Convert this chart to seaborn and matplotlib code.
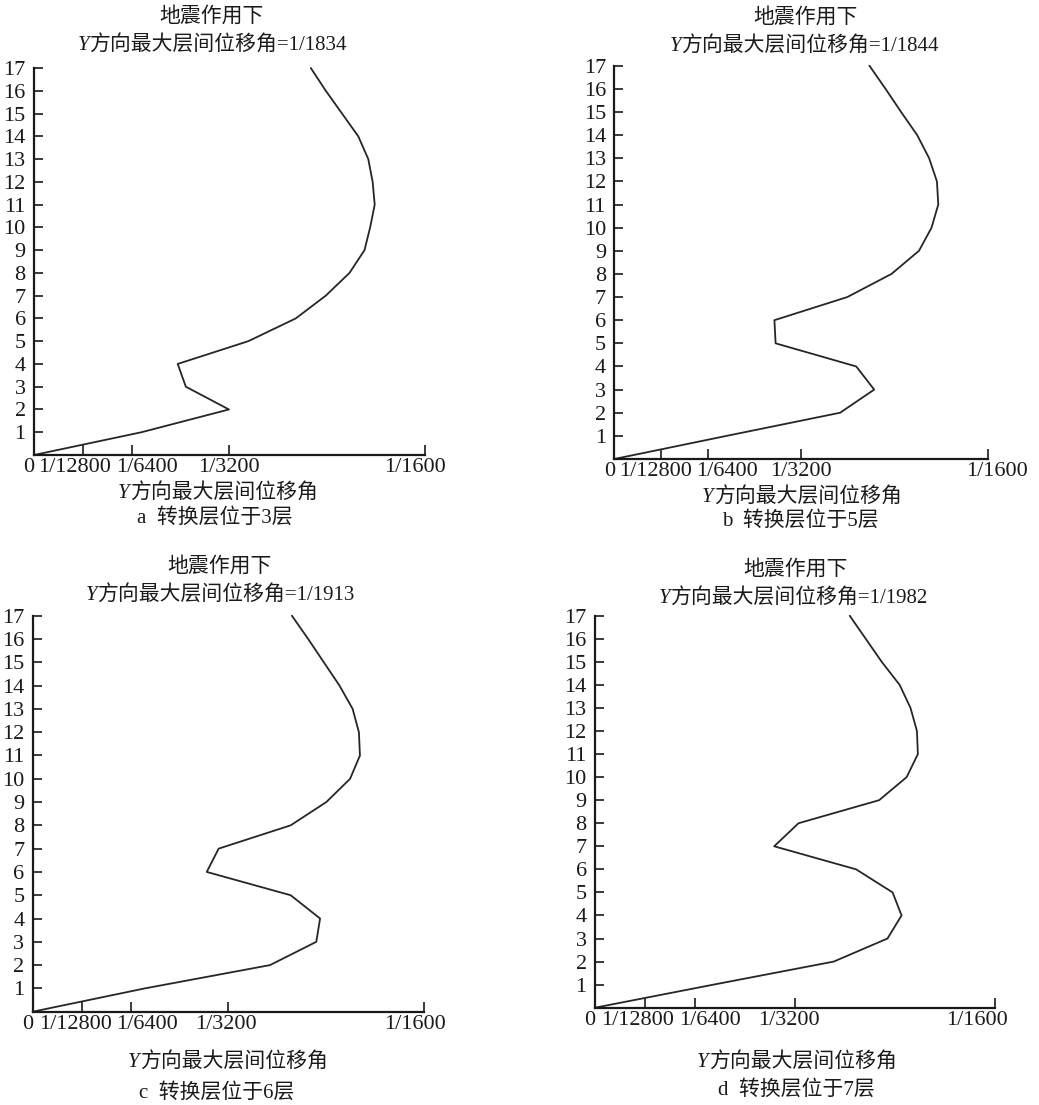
import numpy as np
import pandas as pd
import seaborn as sns
import matplotlib.pyplot as plt
from matplotlib.offsetbox import TextArea, HPacker, AnnotationBbox
from matplotlib.transforms import ScaledTranslation

# ---- data: storey drift ratio (x 1e-4 rad) per floor, floors 0..17 ----
floors = list(range(0, 18))
drift_a = [0, 1.72, 3.12, 2.43, 2.30, 3.43, 4.19, 4.67, 5.05, 5.29, 5.38, 5.453, 5.42, 5.35, 5.19, 4.93, 4.67, 4.43]
drift_b = [0, 1.88, 3.78, 4.35, 4.05, 2.70, 2.68, 3.90, 4.64, 5.10, 5.31, 5.423, 5.40, 5.27, 5.07, 4.80, 4.54, 4.27]
drift_c = [0, 1.79, 3.79, 4.53, 4.59, 4.12, 2.78, 2.97, 4.12, 4.69, 5.07, 5.227, 5.21, 5.11, 4.90, 4.65, 4.40, 4.14]
drift_d = [0, 1.85, 3.73, 4.57, 4.79, 4.65, 4.08, 2.80, 3.18, 4.44, 4.87, 5.045, 5.03, 4.93, 4.76, 4.48, 4.23, 3.98]

max_denoms = [1834, 1844, 1913, 1982]
panel_letters = ["a", "b", "c", "d"]
transfer_floors = [3, 5, 6, 7]
xtick_vals = [0, 1 / 12800, 1 / 6400, 1 / 3200, 1 / 1600]
xtick_labels = ["0", "1/12800", "1/6400", "1/3200", "1/1600"]
ytick_vals = list(range(1, 18))

# ---- styling ----
sns.set_style("ticks")
FAM = ["Liberation Serif", "Noto Sans CJK SC"]
plt.rcParams["font.family"] = FAM
FS = 15
TICK_FS = 16
INK = "#1a1a1a"

W, H = 1039, 1105
fig = plt.figure(figsize=(W / 100, H / 100), dpi=100)

# axes rectangles in pixels: left, top, right, bottom (measured from top)
rects = [
    (34, 68, 424.5, 455),
    (614.3, 65.7, 987.7, 459),
    (32.7, 615.7, 424, 1011.7),
    (595, 615.7, 995, 1007.7),
]
# text anchor points (x, y from top): title line1, title line2, x label, caption
text_pos = [
    [(212, 17), (212, 45), (218, 493), (215, 518)],
    [(806, 18), (804, 46), (802, 497), (800, 521)],
    [(220, 567), (220, 595), (228, 1062), (217, 1093)],
    [(796, 570), (793, 598), (797, 1062), (796, 1090)],
]
# horizontal nudges (px) of the crowded x tick labels
label_shift = [
    [-5, -8, 15, 0, -10],
    [-5, -5, 19, 0, 9],
    [-5, -6, 16, -2, -9],
    [-5, -7, 15, -6, -18],
]

all_drifts = [drift_a, drift_b, drift_c, drift_d]


def y_label_box(x, y, rest, size=FS):
    ta1 = TextArea("Y", textprops=dict(family="Liberation Serif", style="italic",
                                       size=size, color=INK))
    ta2 = TextArea(rest, textprops=dict(family=FAM, size=size, color=INK))
    box = HPacker(children=[ta1, ta2], sep=0, pad=0, align="baseline")
    ab = AnnotationBbox(box, (x, H - y), xycoords="figure pixels", frameon=False,
                        box_alignment=(0.5, 0.5), pad=0)
    fig.add_artist(ab)


for i, drift in enumerate(all_drifts):
    l, t, r, b = rects[i]
    ax = fig.add_axes([l / W, 1 - b / H, (r - l) / W, (b - t) / H])
    df = pd.DataFrame({"drift": np.array(drift) * 1e-4, "floor": floors})
    sns.lineplot(data=df, x="drift", y="floor", sort=False, estimator=None,
                 color="#262626", lw=1.3, ax=ax, clip_on=False)

    ax.set_xlim(0, 1 / 1600)
    ax.set_ylim(0, 17)
    ax.set_xlabel("")
    ax.set_ylabel("")
    for s in ("top", "right"):
        ax.spines[s].set_visible(False)
    for s in ("left", "bottom"):
        ax.spines[s].set_linewidth(1.6)
        ax.spines[s].set_color(INK)

    ax.set_yticks(ytick_vals)
    ax.set_yticklabels([str(v) for v in ytick_vals])
    ax.set_xticks(xtick_vals)
    ax.set_xticklabels(xtick_labels)
    ax.tick_params(axis="y", direction="in", length=6.5, width=1.2, pad=6.0,
                   labelsize=TICK_FS, colors=INK)
    ax.tick_params(axis="x", direction="in", length=7, width=1.2, pad=2.5,
                   labelsize=TICK_FS, colors=INK)
    for lab, dx in zip(ax.get_xticklabels(), label_shift[i]):
        lab.set_transform(lab.get_transform() + ScaledTranslation(dx / 100, 0, fig.dpi_scale_trans))

    (t1, t2, xl, cap) = text_pos[i]
    fig.text(t1[0] / W, 1 - t1[1] / H, "地震作用下", ha="center", va="center",
             fontsize=FS, color=INK)
    y_label_box(t2[0], t2[1], f"方向最大层间位移角=1/{max_denoms[i]}")
    y_label_box(xl[0], xl[1], "方向最大层间位移角")
    fig.text(cap[0] / W, 1 - cap[1] / H,
             f"{panel_letters[i]}  转换层位于{transfer_floors[i]}层",
             ha="center", va="center", fontsize=FS, color=INK)

fig.savefig("out.png", dpi=100)
